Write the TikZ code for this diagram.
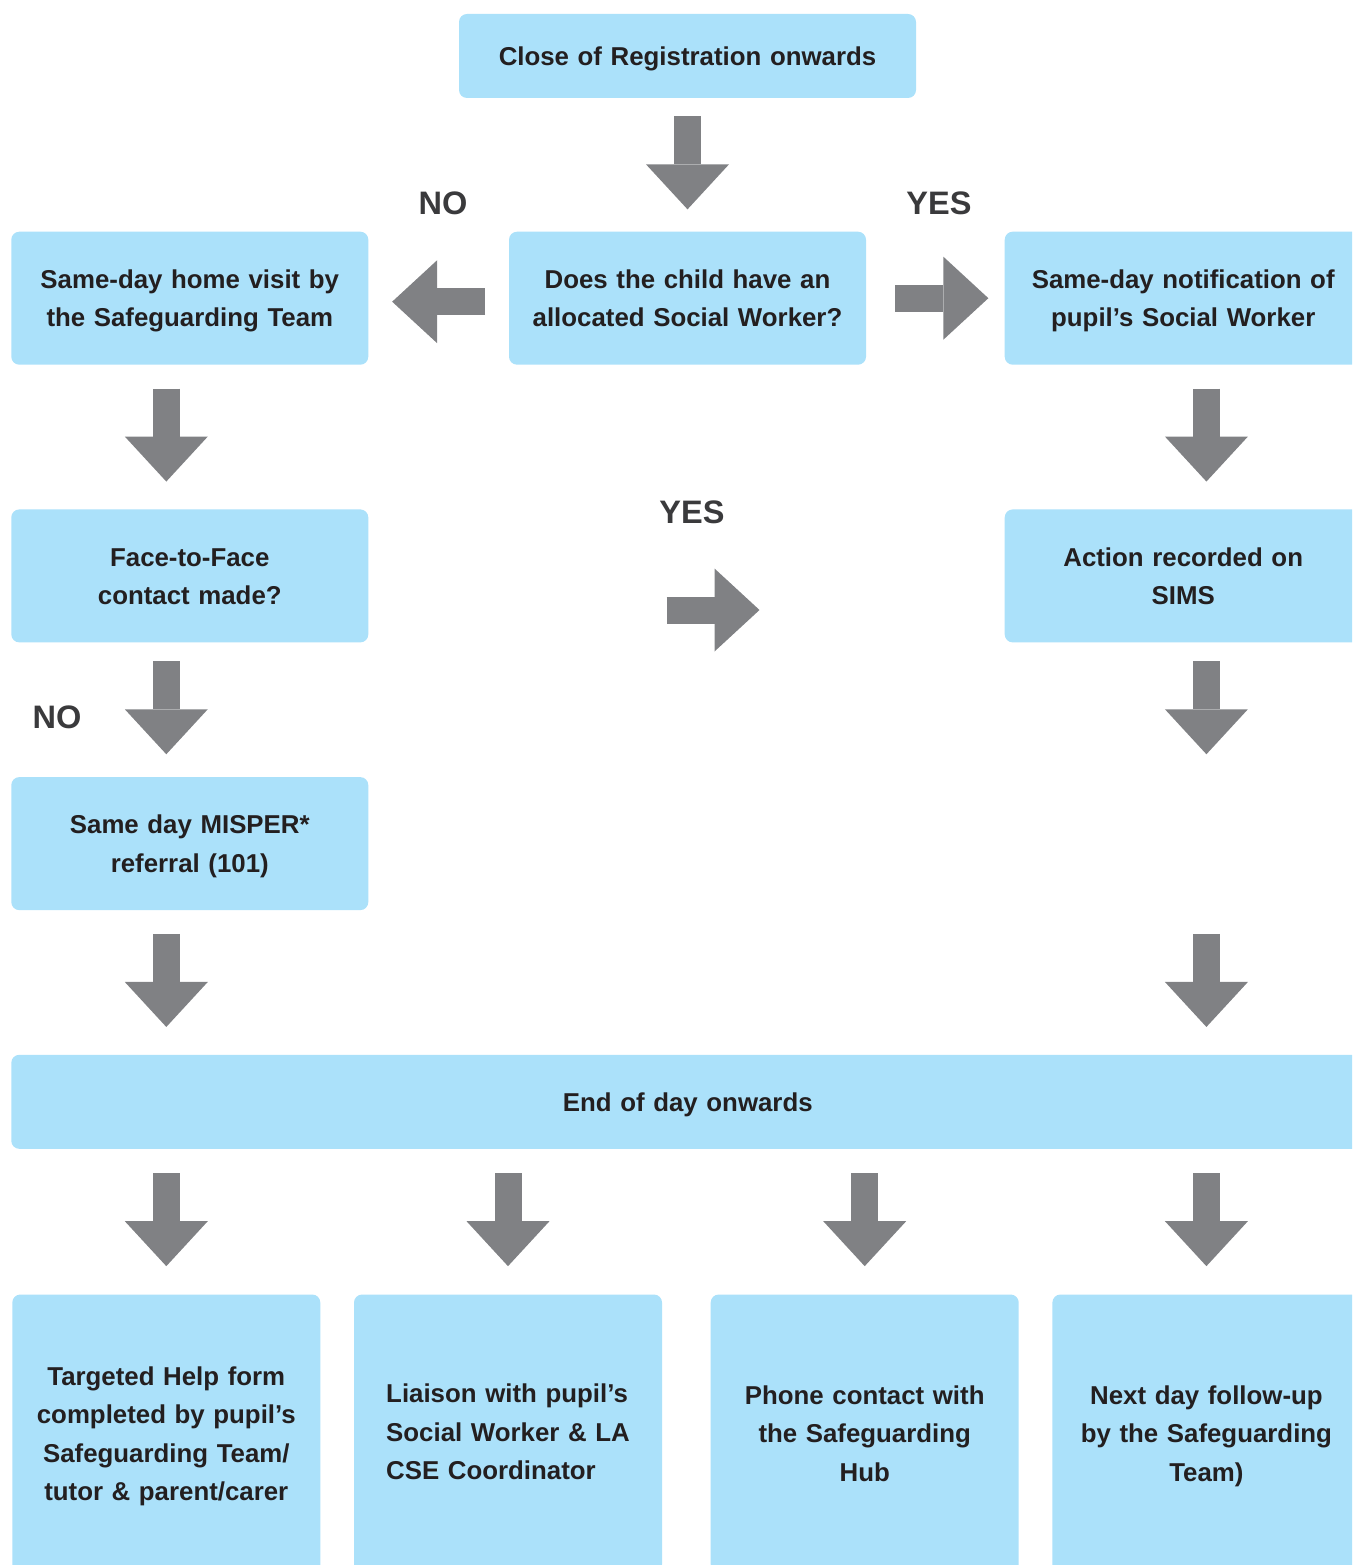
\documentclass[tikz,border=0pt]{standalone}
\usepackage{fontspec}
\setmainfont{Liberation Sans}
\usetikzlibrary{arrows.meta,positioning,calc}
\definecolor{boxblue}{HTML}{ABE1FA}
\definecolor{arrowgrey}{HTML}{808184}
\definecolor{inkgrey}{HTML}{231F20}
\definecolor{labelgrey}{HTML}{3A3A3C}

\begin{document}
\begin{tikzpicture}[
        font = \bfseries\fontsize{14.7}{21.9}\selectfont, % box text
        text = inkgrey,
        node distance = 2.8cm % distance between boxes
    ]

    \tikzstyle{box}=[
        fill = boxblue,
        rounded corners = 0.16cm,
        minimum width = 7.14cm,
        minimum height = 2.66cm,
        text width = 6.9cm,
        align = center,
        inner sep = 0pt,
        % same first/last line size, whatever the letters
        execute at begin node = {\rule{0pt}{13.8pt}},
        execute at end node = {\rule[-3.1pt]{0pt}{3.1pt}}
    ]
    \tikzstyle{fbox}=[box, minimum width = 6.16cm, minimum height = 5.56cm, text width = 6cm]
    \tikzstyle{flow}=[
        draw = arrowgrey,
        line width = 0.54cm,
        -{Triangle[width=1.66cm, length=0.9cm, line width=0pt]},
        % fixed length arrow, about centred in the gap
        to path = {($(\tikztostart)!0.5!(\tikztotarget)!-0.97cm!(\tikztotarget)$)
            -- ($(\tikztostart)!0.5!(\tikztotarget)!0.89cm!(\tikztotarget)$)}
    ]
    \tikzstyle{answer}=[text = labelgrey, font = \bfseries\fontsize{18.5}{22}\selectfont]

    \useasboundingbox (0,0) rectangle (27.04,-31.3);
    \clip (0,0) rectangle (27.04,-31.3);

    \node[box, minimum width = 9.14cm, minimum height = 1.68cm, text width = 8.9cm] (top) at (13.75,-1.12) {Close of Registration onwards};
    \node[box] (ask) [below=2.66cm of top] {Does the child have an\\allocated Social Worker?};
    \node[box] (visit) [left=2.8cm of ask] {Same-day home visit by\\the Safeguarding Team};
    \node[box] (notify) [right=2.76cm of ask] {Same-day notification of\\pupil’s Social Worker};
    \node[box] (face) [below=2.88cm of visit] {Face-to-Face\\contact made?};
    \node[box] (sims) [below=2.88cm of notify] {Action recorded on\\SIMS};
    \node[box] (misper) [below=2.68cm of face] {Same day MISPER*\\referral (101)};
    \node[box, minimum width = 27.06cm, minimum height = 1.88cm, text width = 26cm] (endday) [below right=2.88cm and 0cm of misper.south west] {End of day onwards};

    \node[fbox] (fb1) [below right=2.9cm and 0.02cm of endday.south west] {Targeted Help form\\completed by pupil’s\\Safeguarding Team/\\tutor \& parent/carer};
    \node[fbox] (fb2) [right=0.66cm of fb1] {\begin{tabular}[t]{@{}l@{}}Liaison with pupil’s\\Social Worker \& LA\\CSE Coordinator\end{tabular}};
    \node[fbox] (fb3) [right=0.96cm of fb2] {Phone contact with\\the Safeguarding\\Hub};
    \node[fbox] (fb4) [right=0.66cm of fb3] {Next day follow-up\\by the Safeguarding\\Team)};

    \node[answer] (noLeft) at (8.86,-4.06) {NO};
    \node[answer] (yesRight) at (18.78,-4.06) {YES};
    \node[answer] (yesMid) at (13.84,-10.24) {YES};
    \node[answer] (noDown) at (1.14,-14.34) {NO};

    \coordinate (skipT) at (misper.north -| fb4.north);
    \coordinate (skipB) at (misper.south -| fb4.north);
    \coordinate (yesStart) at (13.40,-12.2);
    \coordinate (yesEnd) at (15.20,-12.2);

    \draw[flow] (top.south) to (ask.north);
    \draw[flow] ([yshift=-0.07cm]ask.west) to ([xshift=-0.08cm, yshift=-0.07cm]visit.east);
    \draw[flow] (ask.east) to ([xshift=0.34cm]notify.west);
    \draw[flow] (visit.south -| fb1.north) to (face.north -| fb1.north);
    \draw[flow] (face.south -| fb1.north) to (misper.north -| fb1.north);
    \draw[flow] (misper.south -| fb1.north) to (endday.north -| fb1.north);
    \draw[flow] (notify.south -| fb4.north) to (sims.north -| fb4.north);
    \draw[flow] (sims.south -| fb4.north) to (skipT);
    \draw[flow] (skipB) to (endday.north -| fb4.north);
    \draw[flow] (yesStart) to (yesEnd);
    \foreach \b in {fb1,fb2,fb3,fb4}
        \draw[flow] (endday.south -| \b.north) to (\b.north);
\end{tikzpicture}
\end{document}
